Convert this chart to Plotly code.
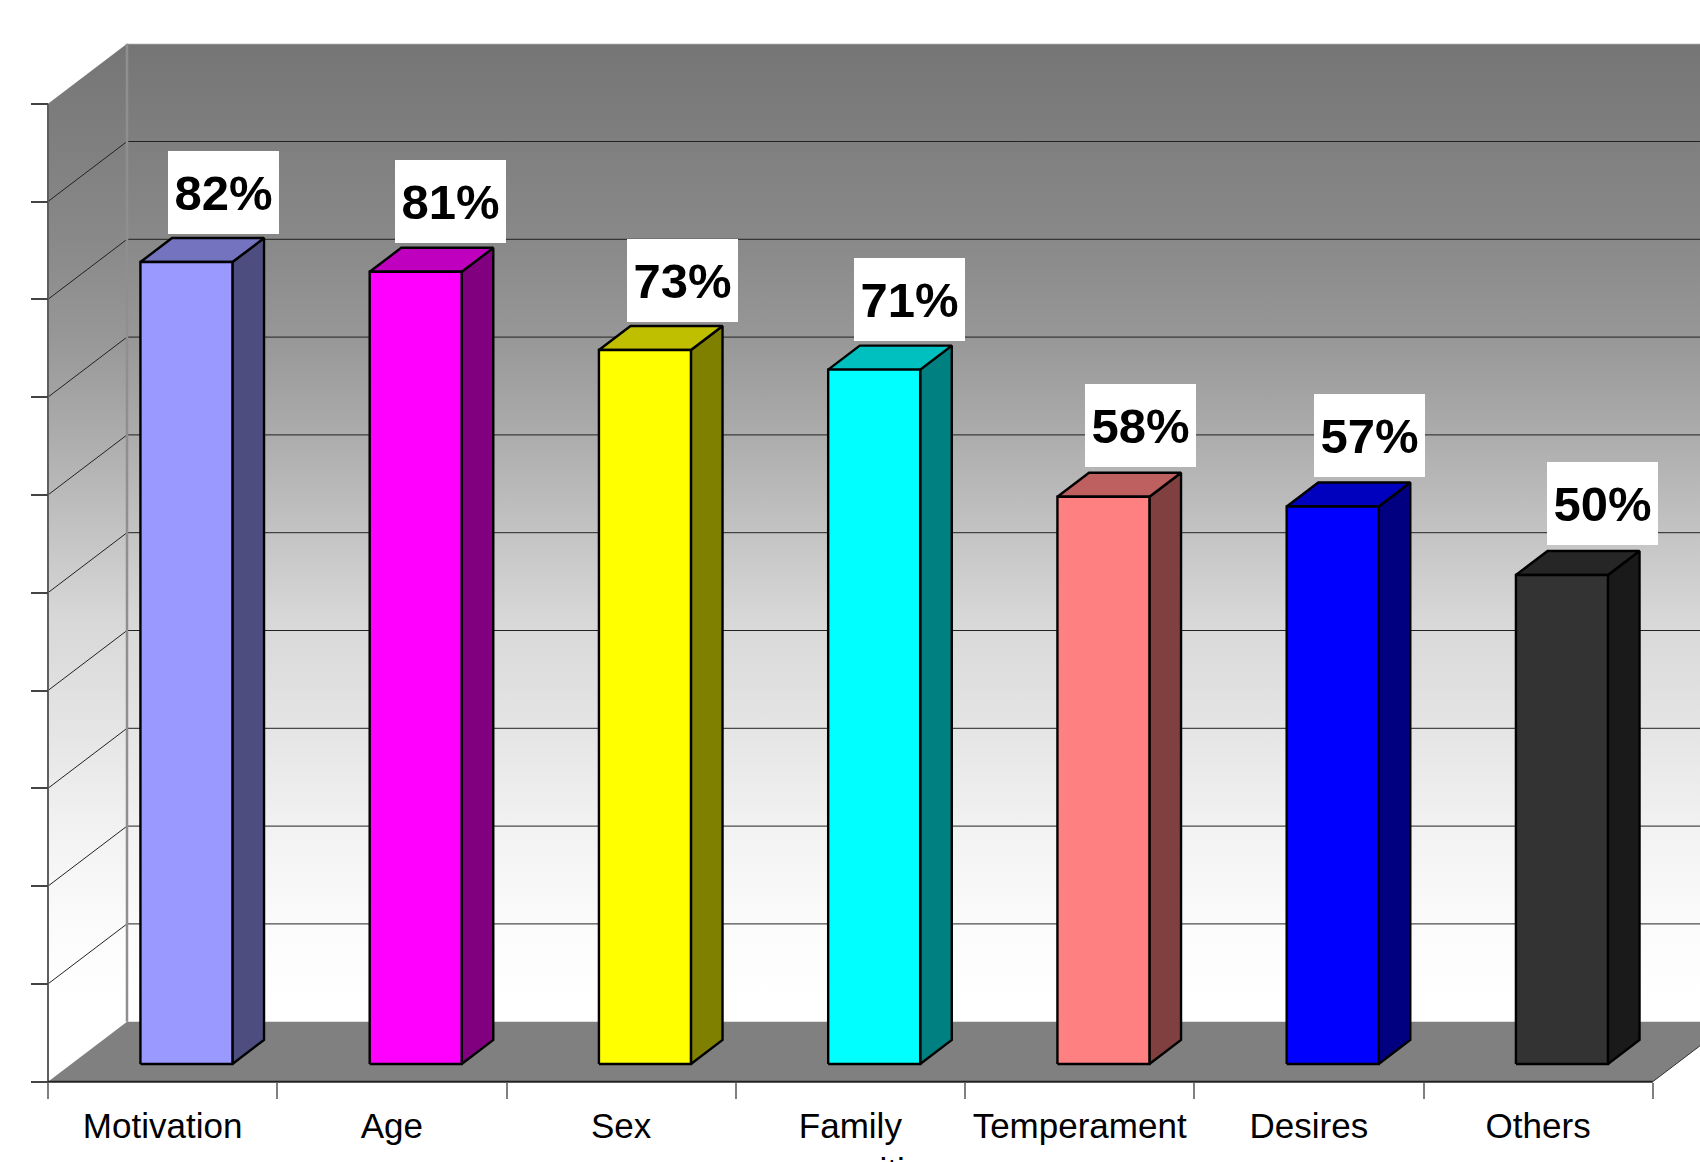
import plotly.graph_objects as go

categories = ["Motivation", "Age", "Sex", "Family<br>composition", "Temperament", "Desires", "Others"]
values = [82, 81, 73, 71, 58, 57, 50]
labels = ["82%", "81%", "73%", "71%", "58%", "57%", "50%"]
front_colors = ["#9999FF", "#FF00FF", "#FFFF00", "#00FFFF", "#FF8080", "#0000FF", "#333333"]
top_colors = ["#7373BF", "#BF00BF", "#BFBF00", "#00BFBF", "#BF6060", "#0000BF", "#262626"]
side_colors = ["#4D4D80", "#800080", "#808000", "#008080", "#804040", "#000080", "#1A1A1A"]
y_ticks = [0, 10, 20, 30, 40, 50, 60, 70, 80, 90, 100]
label_shift_x = [0, -2, 1, -2, 0.5, -0.5, 4]      # pixel nudges of the value boxes
label_shift_y = [0, 1, 0, 1, 2, 2, 2]

W, H = 1700, 1162
X0, Y0 = 48.0, 1081.7          # pixel of the chart origin
SLOT = 229.25                  # pixels per category
UNIT = 9.78                    # pixels per percent
DX = 79 / SLOT                 # wall depth, in axis units
DY = 60 / UNIT
BAR_W = 92.0 / SLOT
BAR_D = 0.40                   # bar depth, as a share of the wall depth
BAR_T = 0.295                  # where the bar front stands in the depth
N = len(categories)

x_range = [-X0 / SLOT, (W - X0) / SLOT]
y_range = [(Y0 - H) / UNIT, Y0 / UNIT]

fig = go.Figure()


def poly(xs, ys, fill=None, line="rgba(0,0,0,0)", width=0, gradient=None):
    kw = dict(fillgradient=gradient) if gradient else dict(fillcolor=fill)
    fig.add_trace(go.Scatter(x=xs + xs[:1], y=ys + ys[:1], mode="lines", fill="toself",
                             line=dict(color=line, width=width), hoverinfo="skip",
                             showlegend=False, **kw))


def seg(xs, ys, color, width=1):
    fig.add_trace(go.Scatter(x=xs, y=ys, mode="lines", line=dict(color=color, width=width),
                             hoverinfo="skip", showlegend=False))


GRAD = [[0, "#FFFFFF"], [0.021, "#FFFFFF"], [0.098, "#FBFBFB"], [0.195, "#F2F2F2"], [0.297, "#E5E5E5"],
        [0.41, "#D8D8D8"], [0.502, "#C3C3C3"], [0.604, "#ABABAB"], [0.701, "#979797"],
        [0.798, "#898989"], [1, "#757575"]]
# back wall, side wall, floor
poly([DX, N + DX, N + DX, DX], [DY, DY, 100 + DY, 100 + DY],
     gradient=dict(type="vertical", colorscale=GRAD, start=DY, stop=100 + DY))
poly([0, DX, DX, 0], [0, DY, 100 + DY, 100],
     gradient=dict(type="vertical", colorscale=GRAD, start=DY, stop=100 + DY))
poly([0, N, N + DX, DX], [0, 0, DY, DY], fill="#808080")

# gridlines
for v in y_ticks[1:-1]:
    seg([0, DX, N + DX], [v, v + DY, v + DY], "#222222", 1)
seg([DX, N + DX], [100 + DY, 100 + DY], "#E8E8E8", 1)
seg([DX, DX], [DY, 100 + DY], "#8F8F8F", 2.5)
seg([0, 0], [0, 100], "#5E5E5E", 2)
seg([N, N + DX], [0, DY], "#333333", 1)
seg([0, N], [0, 0], "#222222", 2)

# bars
for i, v in enumerate(values):
    x0 = i + (1 - BAR_W) / 2 + DX * BAR_T + 0.5 / SLOT
    x1 = x0 + BAR_W
    y0 = DY * BAR_T
    y1 = y0 + v
    ddx, ddy = DX * BAR_D, DY * BAR_D
    poly([x1, x1 + ddx, x1 + ddx, x1], [y0, y0 + ddy, y1 + ddy, y1], fill=side_colors[i], line="#000000", width=2.4)
    poly([x0, x1, x1 + ddx, x0 + ddx], [y1, y1, y1 + ddy, y1 + ddy], fill=top_colors[i], line="#000000", width=2.4)
    poly([x0, x1, x1, x0], [y0, y0, y1, y1], fill=front_colors[i], line="#000000", width=2.4)
    fig.add_annotation(x=i + 0.765 + label_shift_x[i] / SLOT, y=v + DY * BAR_T + 7.07 + label_shift_y[i] / UNIT,
                       text="<b>" + labels[i] + "</b>", showarrow=False,
                       xanchor="center", yanchor="middle",
                       bgcolor="#FFFFFF", width=111, height=83, borderpad=0, borderwidth=0,
                       font=dict(family="Liberation Sans", size=49, color="#000000"))

fig.update_layout(
    width=W, height=H, margin=dict(l=0, r=0, t=0, b=0, pad=0), autosize=False,
    template="none",
    paper_bgcolor="#FFFFFF", plot_bgcolor="#FFFFFF", showlegend=False,
    font=dict(family="Liberation Sans", color="#000000"),
    xaxis=dict(
        range=x_range, anchor="free", position=(H - Y0) / H, showgrid=False, zeroline=False,
        automargin=False,
        showline=False, tickmode="array", tickvals=[i + 0.5 for i in range(N)], ticktext=categories,
        ticks="", ticklabelstandoff=20, tickfont=dict(size=35, color="#000000"),
        minor=dict(tickmode="array", tickvals=list(range(N + 1)), ticks="outside", ticklen=16,
                   tickwidth=2, tickcolor="#808080", showgrid=False),
        fixedrange=True,
    ),
    yaxis=dict(
        range=y_range, anchor="free", position=X0 / W, showgrid=False, zeroline=False,
        automargin=False,
        showline=False, tickmode="array", tickvals=y_ticks, ticktext=[""] * len(y_ticks),
        ticks="outside", ticklen=17, tickwidth=1.5, tickcolor="#444444", fixedrange=True,
    ),
)
fig.write_html("out.html", config={"displayModeBar": False},
               post_script="document.body.style.margin='0';document.documentElement.style.overflow='hidden';")
